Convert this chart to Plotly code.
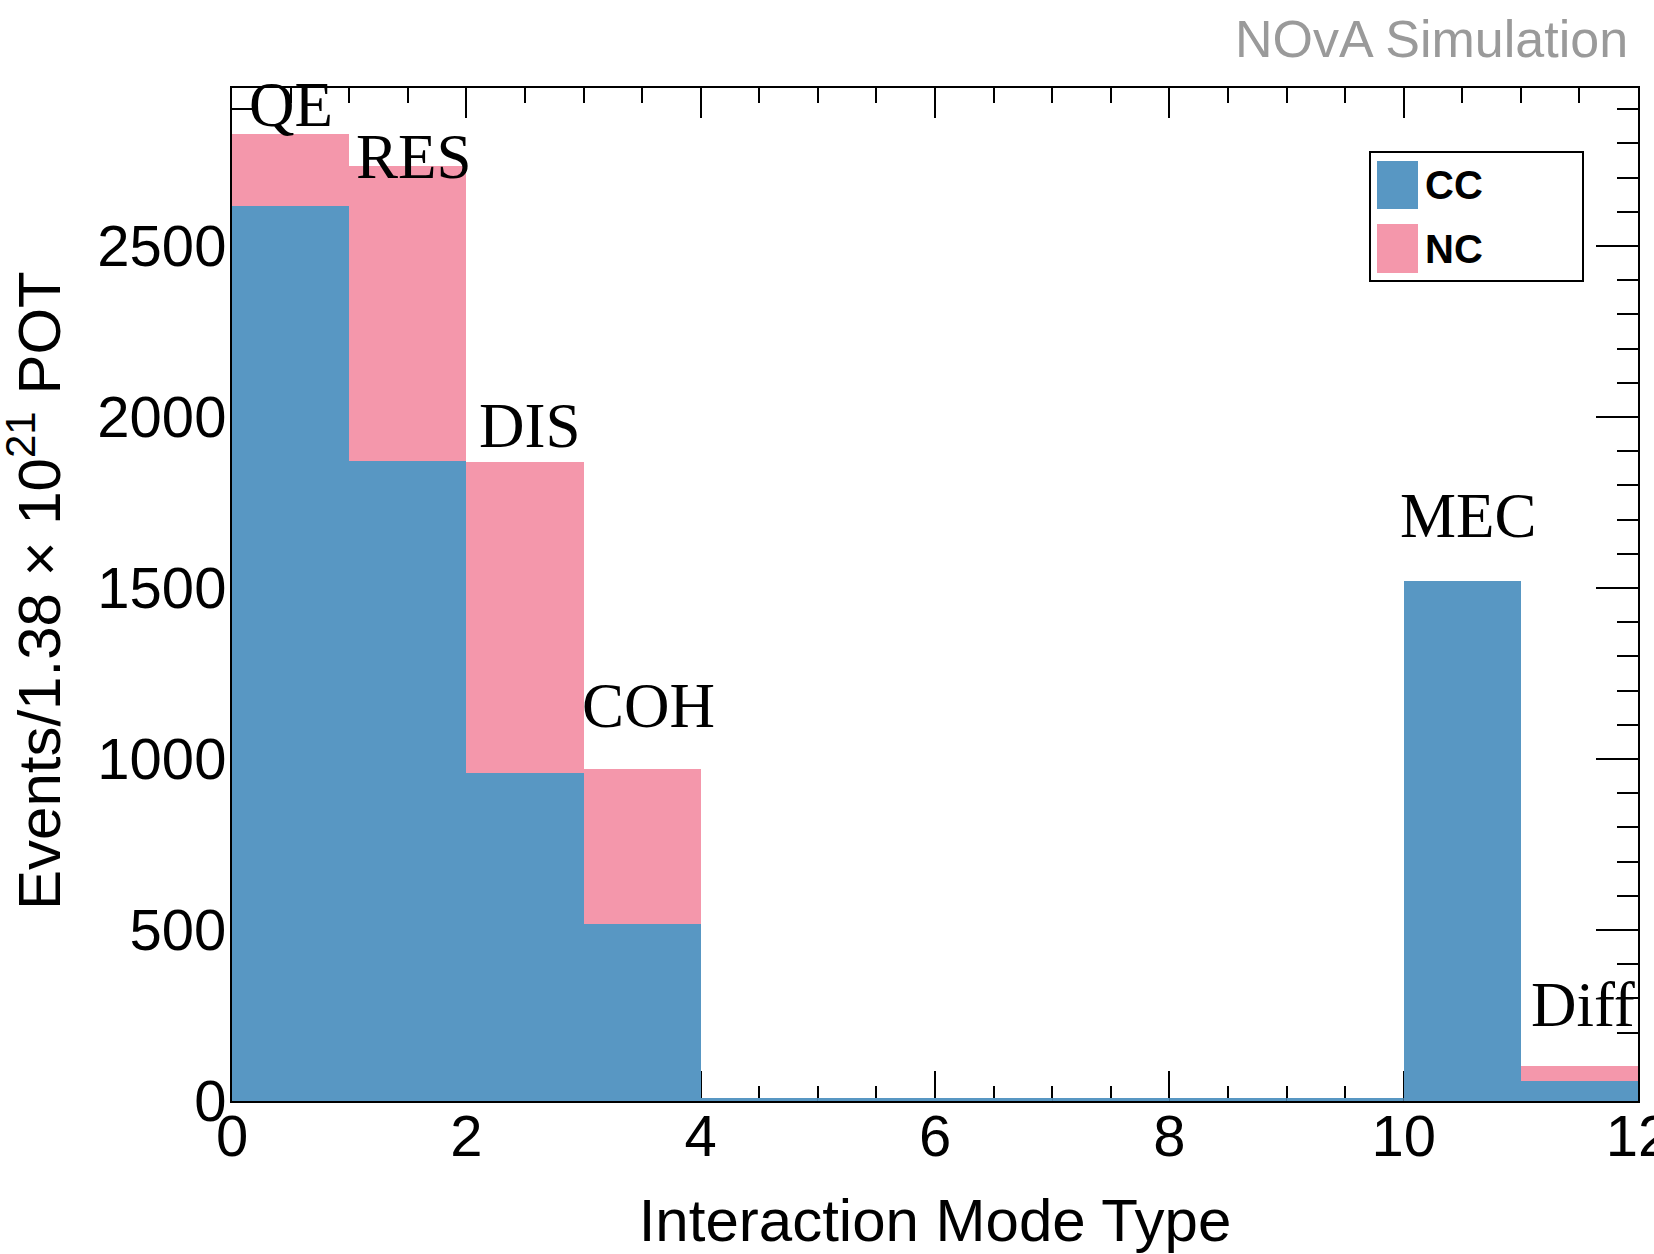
import plotly.graph_objects as go
import numpy as np

# ---- data ----
modes = ["QE", "RES", "DIS", "COH", "", "", "", "", "", "", "MEC", "Diff"]
cc_values = [2618, 1871, 959, 518, 0, 0, 0, 0, 0, 0, 1520, 58]
nc_values = [209, 863, 909, 453, 0, 0, 0, 0, 0, 0, 0, 45]
label_text = ["QE", "RES", "DIS", "COH", "MEC", "Diff"]
label_x = [0.13, 1.04, 2.09, 2.97, 9.95, 11.07]
label_y = [2848, 2696, 1909, 1091, 1646, 216]

CC_COLOR = "#5897c3"
NC_COLOR = "#f497ab"

W, H = 1654, 1254
ML, MR, MT, MB = 232, 16, 88, 153

def px(x):
    return (x - ML) / (W - ML - MR)

def py(y):
    return (H - MB - y) / (H - MB - MT)

centers = np.arange(len(cc_values)) + 0.5

fig = go.Figure()
fig.add_trace(go.Bar(x=centers, y=cc_values, width=1.0, name="CC",
                     marker=dict(color=CC_COLOR, line=dict(width=0)), showlegend=False))
fig.add_trace(go.Bar(x=centers, y=nc_values, width=1.0, name="NC",
                     marker=dict(color=NC_COLOR, line=dict(width=0)), showlegend=False))

# outline of empty CC bins (drawn as ROOT does)
lx, ly = [], []
for i, v in enumerate(cc_values):
    if v == 0 and nc_values[i] == 0:
        lx += [i, i + 1, None]
        ly += [0, 0, None]
fig.add_trace(go.Scatter(x=lx, y=ly, mode="lines", line=dict(color=CC_COLOR, width=6),
                         showlegend=False, hoverinfo="skip"))

annotations = []
for t, x, y in zip(label_text, label_x, label_y):
    annotations.append(dict(x=x, y=y, text=t, xref="x", yref="y", showarrow=False,
                            xanchor="left", yanchor="bottom", yshift=-15,
                            font=dict(family="Liberation Serif", size=63, color="black")))

annotations.append(dict(x=px(1630), y=py(58), xref="paper", yref="paper", text="NOvA Simulation",
                        showarrow=False, xanchor="right", yanchor="bottom", yshift=-12,
                        font=dict(family="Liberation Sans", size=52, color="#9a9a9a")))

# y-axis title
annotations.append(dict(x=px(35), y=py(591), xref="paper", yref="paper",
                        text="Events/1.38 × 10<sup>21</sup> POT", textangle=-90,
                        showarrow=False, xanchor="center", yanchor="middle",
                        font=dict(family="Liberation Sans", size=60, color="black")))

# legend (manual)
shapes = [
    dict(type="rect", xref="paper", yref="paper", x0=px(1370), x1=px(1583), y0=py(281), y1=py(152),
         line=dict(color="black", width=2), fillcolor="white", layer="above"),
    dict(type="rect", xref="paper", yref="paper", x0=px(1377), x1=px(1418), y0=py(209), y1=py(161),
         line=dict(width=0), fillcolor=CC_COLOR, layer="above"),
    dict(type="rect", xref="paper", yref="paper", x0=px(1377), x1=px(1418), y0=py(273), y1=py(224),
         line=dict(width=0), fillcolor=NC_COLOR, layer="above"),
]
for name, yc in [("CC", 185), ("NC", 249)]:
    annotations.append(dict(x=px(1423), y=py(yc), xref="paper", yref="paper", text="<b>%s</b>" % name,
                            showarrow=False, xanchor="left", yanchor="middle",
                            font=dict(family="Liberation Sans", size=40, color="black")))

fig.update_layout(
    width=W, height=H,
    margin=dict(l=ML, r=MR, t=MT, b=MB, pad=0, autoexpand=False),
    paper_bgcolor="white", plot_bgcolor="white",
    barmode="stack", bargap=0,
    showlegend=False,
    annotations=annotations,
    shapes=shapes,
    font=dict(family="Liberation Sans", color="black"),
)
fig.update_xaxes(
    range=[0, 12], tickmode="linear", tick0=0, dtick=2, automargin=False,
    ticks="inside", ticklen=30, tickwidth=2, tickcolor="black",
    minor=dict(ticks="inside", dtick=0.5, ticklen=15, tickwidth=2, tickcolor="black"),
    showline=True, linecolor="black", linewidth=2, mirror="allticks",
    showgrid=False, zeroline=False, layer="below traces",
    tickfont=dict(family="Liberation Sans", size=58), ticklabelstandoff=-17,
    ticklabeloverflow="allow",
    title=dict(text="Interaction Mode Type", font=dict(family="Liberation Sans", size=60), standoff=32),
)
fig.update_yaxes(
    range=[0, 2962], tickmode="linear", tick0=0, dtick=500, automargin=False,
    ticks="inside", ticklen=42, tickwidth=2, tickcolor="black",
    minor=dict(ticks="inside", dtick=100, ticklen=21, tickwidth=2, tickcolor="black"),
    showline=True, linecolor="black", linewidth=2, mirror="allticks",
    showgrid=False, zeroline=False, layer="below traces",
    tickfont=dict(family="Liberation Sans", size=58), ticklabelstandoff=-8,
)

fig.write_html("out.html")
